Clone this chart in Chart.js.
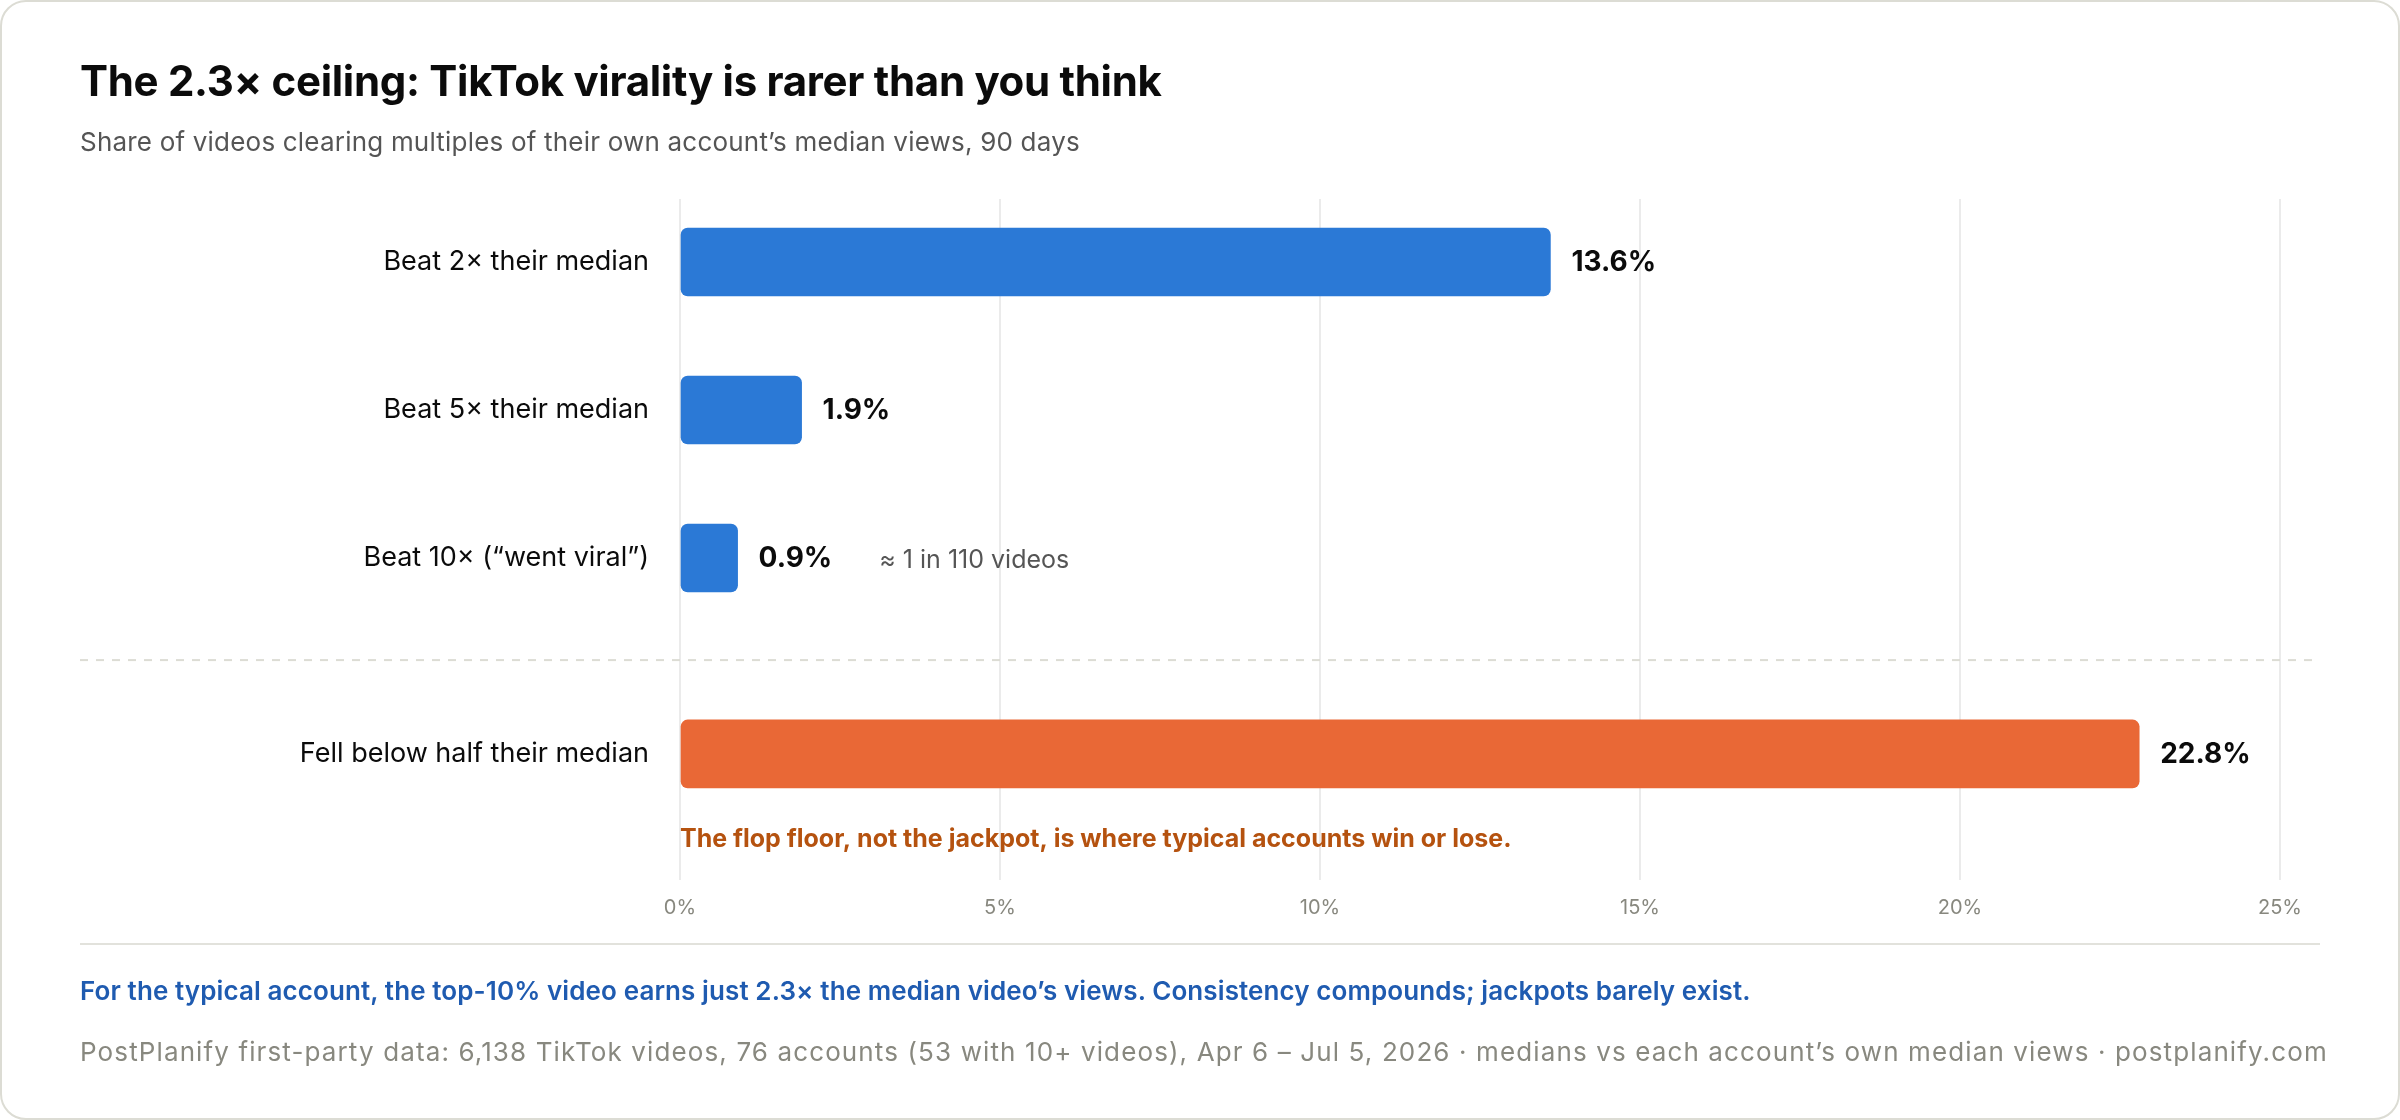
<!DOCTYPE html>
<html>
<head>
<meta charset="utf-8">
<script src="https://cdn.jsdelivr.net/npm/chart.js@4.4.1/dist/chart.umd.min.js"></script>
<style>
  html, body { margin: 0; padding: 0; background: #ffffff; }
  body { width: 2400px; height: 1120px; position: relative; overflow: hidden; font-family: Inter, "Noto Sans", sans-serif; }
  .card { position: absolute; left: 0; top: 0; width: 2400px; height: 1120px; box-sizing: border-box;
          border: 2px solid #dcdcd4; border-radius: 26px; background: #fff; }
  .txt { position: absolute; left: 80px; white-space: nowrap; }
  #title { top: 58px; line-height: 46px; font-size: 42px; font-weight: 700; color: #0b0b0b; letter-spacing: -0.3px; }
  #subtitle { top: 126px; line-height: 32px; font-size: 26px; color: #555555; letter-spacing: 0.2px; }
  #rule { position: absolute; left: 80px; top: 943px; width: 2240px; height: 2px; background: #e2e2dc; }
  #takeaway { top: 975px; line-height: 32px; font-size: 26px; font-weight: 600; color: #1f5bb0; letter-spacing: 0.1px; }
  #source { top: 1036px; line-height: 32px; font-size: 26px; color: #88887f; letter-spacing: 1.12px; }
  #chartWrap { position: absolute; left: 0; top: 0; width: 2400px; height: 1120px; }
</style>
</head>
<body>
<div class="card"></div>
<div id="chartWrap"><canvas id="myChart" width="2400" height="1120"></canvas></div>
<div class="txt" id="title">The 2.3× ceiling: TikTok virality is rarer than you think</div>
<div class="txt" id="subtitle">Share of videos clearing multiples of their own account’s median views, 90 days</div>
<div id="rule"></div>
<div class="txt" id="takeaway">For the typical account, the top-10% video earns just 2.3× the median video’s views. Consistency compounds; jackpots barely exist.</div>
<div class="txt" id="source">PostPlanify first-party data: 6,138 TikTok videos, 76 accounts (53 with 10+ videos), Apr 6 – Jul 5, 2026 · medians vs each account’s own median views · postplanify.com</div>
<script>
const categories = ['Beat 2× their median', 'Beat 5× their median', 'Beat 10× (“went viral”)', 'Fell below half their median'];
const shares = [13.6, 1.9, 0.9, 22.8];
const barColors = ['#2b79d6', '#2b79d6', '#2b79d6', '#e96836'];
const xTicks = [0, 5, 10, 15, 20, 25];
const viralNote = '≈ 1 in 110 videos';
const flopNote = 'The flop floor, not the jackpot, is where typical accounts win or lose.';

// the flop row sits a bit lower, below a dashed divider
const rowGap = 0.324;
const rows = categories.map((c, i) => i < 3 ? i : i + rowGap);
const dividerAt = 2.69;

const labelPlugin = {
  id: 'labels',
  beforeDatasetsDraw(chart) {
    const ctx = chart.ctx;
    const y = chart.scales.y.getPixelForValue(dividerAt);
    ctx.save();
    ctx.strokeStyle = '#dcdcd4';
    ctx.lineWidth = 2;
    ctx.setLineDash([8, 8]);
    ctx.beginPath();
    ctx.moveTo(80, y);
    ctx.lineTo(2312, y);
    ctx.stroke();
    ctx.restore();
  },
  afterDatasetsDraw(chart) {
    const ctx = chart.ctx;
    const bars = chart.getDatasetMeta(0).data;
    ctx.save();
    ctx.textBaseline = 'middle';
    bars.forEach((bar, i) => {
      const text = shares[i].toFixed(1) + '%';
      ctx.font = '700 28px Inter';
      ctx.fillStyle = '#0b0b0b';
      ctx.textAlign = 'left';
      ctx.fillText(text, bar.x + 21, bar.y + 1);
      if (i === 2) {
        const w = ctx.measureText(text).width;
        ctx.font = '400 25px Inter';
        ctx.fillStyle = '#555555';
        ctx.fillText(viralNote, bar.x + 21 + w + 47, bar.y + 2);
      }
      if (i === 3) {
        ctx.font = '700 25px Inter';
        ctx.fillStyle = '#b5520f';
        ctx.fillText(flopNote, chart.scales.x.getPixelForValue(0), bar.y + bar.height / 2 + 52);
      }
    });
    ctx.restore();
  }
};

const ctx = document.getElementById('myChart').getContext('2d');
const myChart = new Chart(ctx, {
  type: 'bar',
  data: {
    labels: categories,
    datasets: [{
      data: shares.map((v, i) => ({ x: v, y: rows[i] })),
      backgroundColor: barColors,
      borderRadius: 7,
      borderSkipped: false,
      barThickness: 68
    }]
  },
  options: {
    indexAxis: 'y',
    responsive: false,
    animation: false,
    events: [],
    layout: { padding: { top: 199, right: 120, bottom: 200, left: 0 } },
    plugins: { legend: { display: false }, tooltip: { enabled: false } },
    scales: {
      x: {
        type: 'linear',
        min: 0,
        max: 25,
        afterBuildTicks: (scale) => { scale.ticks = xTicks.map(v => ({ value: v })); },
        afterFit: (scale) => { scale.height = 40; },
        grid: { color: '#ebebeb', lineWidth: 2, drawTicks: false },
        border: { display: false },
        ticks: {
          padding: 16,
          color: '#88887f',
          font: { family: 'Inter', size: 20 },
          callback: (v) => v + '%'
        }
      },
      y: {
        type: 'linear',
        reverse: true,
        offset: false,
        min: -0.426,
        max: 4.176,
        afterBuildTicks: (scale) => { scale.ticks = rows.map(v => ({ value: v })); },
        afterFit: (scale) => { scale.width = 680; },
        grid: { display: false, drawTicks: false },
        border: { display: false },
        ticks: {
          padding: 31,
          color: '#0b0b0b',
          font: { family: 'Inter', size: 27 },
          callback: (v, i) => categories[i]
        }
      }
    }
  },
  plugins: [labelPlugin]
});
</script>
</body>
</html>
